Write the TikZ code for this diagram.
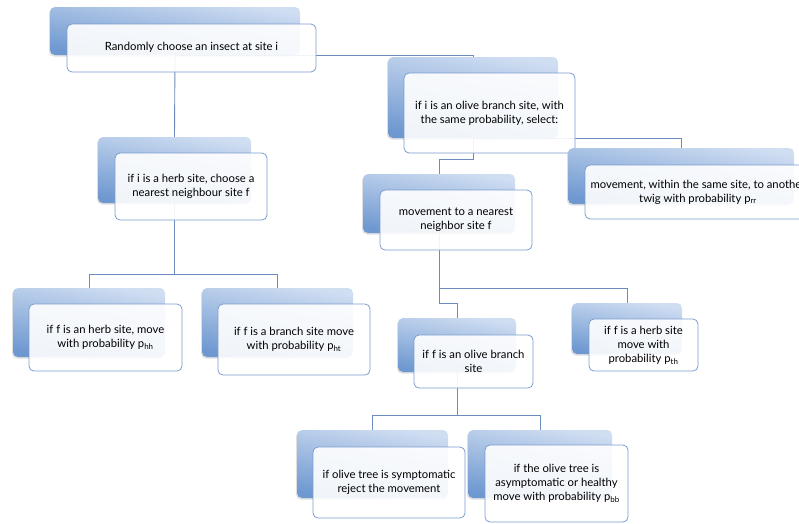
\documentclass[tikz,border=0pt]{standalone}
\usepackage{fontspec}
\setmainfont{Lato}
\usepackage{tikz}
\usetikzlibrary{shadows}

\definecolor{boxlight}{RGB}{208,222,242}
\definecolor{boxdark}{RGB}{110,152,208}
\definecolor{edgeblue}{RGB}{124,156,206}
\definecolor{linkblue}{RGB}{108,140,192}

\pgfdeclarelayer{background}
\pgfsetlayers{background,main}

\tikzset{
  back/.style={rectangle, rounded corners=5pt,
      top color=boxlight, bottom color=boxdark, shading angle=-10,
      drop shadow={shadow xshift=-1pt, shadow yshift=-1.5pt, opacity=0.25}},
  front/.style={rectangle, rounded corners=5pt, draw=edgeblue, line width=0.8pt,
      fill=white, fill opacity=0.9, text opacity=1, align=center,
      font=\fontsize{11.3}{14}\selectfont},
  link/.style={draw=linkblue, line width=0.9pt}
}

\begin{document}
\begin{tikzpicture}[x=1pt, y=-1pt]
\useasboundingbox (0,0) rectangle (799,523);
\clip (0,0) rectangle (799,523);

\node[back, minimum width=250pt, minimum height=48pt] (root-b) at (175,31) {};
\node[front, minimum width=249pt, minimum height=48pt] (root) at (191.5,48)
      {\raisebox{4pt}{Randomly choose an insect at site i}};

\node[back, minimum width=170pt, minimum height=81pt] (olive-b) at (473,97.5) {};
\node[front, minimum width=171pt, minimum height=80pt] (olive) at (489.5,113)
      {if i is an olive branch site, with\\the same probability, select:};

\node[back, minimum width=153pt, minimum height=66pt] (herb-b) at (174.5,170) {};
\node[front, minimum width=152pt, minimum height=67pt] (herb) at (191,186.5)
      {if i is a herb site, choose a\\nearest neighbour site f};

\node[back, minimum width=226pt, minimum height=56pt] (within-b) at (681,176) {};
\node[front, minimum width=226pt, minimum height=54pt] (within) at (698,192)
      {movement, within the same site, to another\\twig with probability p\textsubscript{rr}};

\node[back, minimum width=152pt, minimum height=59pt] (move-b) at (439,203.5) {};
\node[front, minimum width=152pt, minimum height=60pt] (move) at (456,220)
      {movement to a nearest\\neighbor site f};

\node[back, minimum width=152pt, minimum height=69pt] (hh-b) at (89,322.5) {};
\node[front, minimum width=153pt, minimum height=67pt] (hh) at (105.5,337.5)
      {if f is an herb site, move\\with probability p\textsubscript{hh}};

\node[back, minimum width=151pt, minimum height=69pt] (ht-b) at (277.5,322.5) {};
\node[front, minimum width=152pt, minimum height=71pt] (ht) at (294,339.5)
      {if f is a branch site move\\with probability p\textsubscript{ht}};

\node[back, minimum width=118pt, minimum height=54pt] (of-b) at (457,345) {};
\node[front, minimum width=119pt, minimum height=53pt] (of) at (473.5,361.5)
      {if f is an olive branch\\site};

\node[back, minimum width=110pt, minimum height=51pt] (th-b) at (627,328.5) {};
\node[front, minimum width=109pt, minimum height=52pt] (th) at (643.5,345)
      {if f is a herb site\\move with\\probability p\textsubscript{th}};

\node[back, minimum width=151pt, minimum height=68pt] (sym-b) at (372.5,464) {};
\node[front, minimum width=152pt, minimum height=71pt] (sym) at (389,482.5)
      {if olive tree is symptomatic\\reject the movement};

\node[back, minimum width=144pt, minimum height=68pt] (asym-b) at (540,464) {};
\node[front, minimum width=143pt, minimum height=77pt] (asym) at (556.5,483.5)
      {if the olive tree is\\asymptomatic or healthy\\move with probability p\textsubscript{bb}};

\begin{pgfonlayer}{background}
\draw[link] (root-b.south) -- (herb-b.north);
\draw[link] (root-b.south) -| (olive-b.north);
\draw[link] (olive-b.south) -| (within-b.north);
\draw[link] (olive-b.south) -- ++(0,21) -| (move-b.north);
\draw[link] (herb-b.south) -- ++(0,71) -| (hh-b.north);
\draw[link] (herb-b.south) -- ++(0,71) -| (ht-b.north);
\draw[link] (move-b.south) -- ++(0,70) -| (of-b.north);
\draw[link] (move-b.south) -- ++(0,55) -| (th-b.north);
\draw[link] (of-b.south) -- ++(0,43) -| (sym-b.north);
\draw[link] (of-b.south) -- ++(0,43) -| (asym-b.north);
\end{pgfonlayer}
\end{tikzpicture}
\end{document}
